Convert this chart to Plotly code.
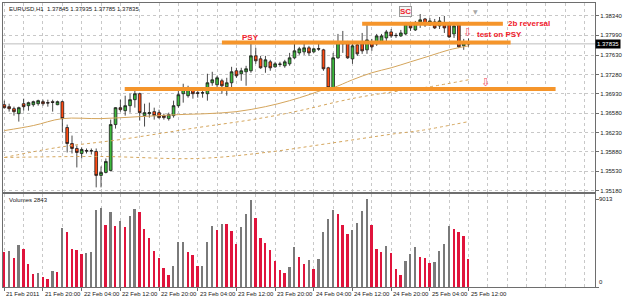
import plotly.graph_objects as go

# ---------------- data (EURUSD H1, 21 Feb 2011 12:00 .. 25 Feb 2011 12:00) ----------------
date_labels = ["21 Feb 2011", "21 Feb 20:00", "22 Feb 04:00", "22 Feb 12:00", "22 Feb 20:00",
               "23 Feb 04:00", "23 Feb 12:00", "23 Feb 20:00", "24 Feb 04:00", "24 Feb 12:00",
               "24 Feb 20:00", "25 Feb 04:00", "25 Feb 12:00"]

opens = [1.36734, 1.36698, 1.36662, 1.36572, 1.36752, 1.36716, 1.36734, 1.36752, 1.36789, 1.36771,
         1.36789, 1.36734, 1.36789, 1.36320, 1.36031, 1.35941, 1.35851, 1.35905, 1.35895, 1.35887,
         1.35454, 1.35508, 1.35544, 1.36374, 1.36680, 1.36626, 1.36716, 1.36825, 1.36933, 1.36536,
         1.36572, 1.36608, 1.36590, 1.36536, 1.36482, 1.36536, 1.36716, 1.36933, 1.36897, 1.37023,
         1.36951, 1.36945, 1.36933, 1.37131, 1.37095, 1.37167, 1.37059, 1.37131, 1.37348, 1.37294,
         1.37330, 1.37348, 1.37618, 1.37564, 1.37420, 1.37510, 1.37420, 1.37470, 1.37438, 1.37474,
         1.37582, 1.37672, 1.37691, 1.37763, 1.37691, 1.37750, 1.37727, 1.37402, 1.37023, 1.37582,
         1.37853, 1.37853, 1.37564, 1.37817, 1.37835, 1.37727, 1.37871, 1.37835, 1.37871, 1.37943,
         1.38051, 1.37990, 1.37979, 1.38015, 1.38196, 1.38087, 1.38232, 1.38286, 1.38178, 1.38232,
         1.38160, 1.38214, 1.38178, 1.38015, 1.38178, 1.37799, 1.37845]
highs = [1.36807, 1.36752, 1.36698, 1.36698, 1.36843, 1.36789, 1.36807, 1.36825, 1.36825, 1.36825,
         1.36825, 1.36807, 1.36807, 1.36374, 1.36175, 1.35995, 1.35959, 1.35941, 1.35941, 1.35941,
         1.35616, 1.35760, 1.36464, 1.36690, 1.36825, 1.36897, 1.36933, 1.37023, 1.36951, 1.36752,
         1.36771, 1.36680, 1.36644, 1.36572, 1.36590, 1.36807, 1.36987, 1.37113, 1.37077, 1.37041,
         1.36987, 1.36987, 1.37294, 1.37330, 1.37257, 1.37203, 1.37221, 1.37420, 1.37402, 1.37402,
         1.37438, 1.37853, 1.37763, 1.37618, 1.37618, 1.37546, 1.37510, 1.37510, 1.37546, 1.37672,
         1.37835, 1.37781, 1.37835, 1.37799, 1.37763, 1.37835, 1.37745, 1.37420, 1.37672, 1.38015,
         1.38069, 1.37889, 1.37835, 1.37853, 1.38033, 1.38196, 1.37925, 1.38015, 1.38015, 1.38087,
         1.38105, 1.38033, 1.38087, 1.38232, 1.38232, 1.38250, 1.38376, 1.38304, 1.38304, 1.38286,
         1.38322, 1.38340, 1.38214, 1.38232, 1.38196, 1.37925, 1.37935]
lows = [1.36662, 1.36608, 1.36536, 1.36428, 1.36626, 1.36626, 1.36698, 1.36716, 1.36716, 1.36698,
        1.36608, 1.36725, 1.36229, 1.35869, 1.35851, 1.35598, 1.35760, 1.35851, 1.35833, 1.35237,
        1.35237, 1.35490, 1.35526, 1.36302, 1.36608, 1.36536, 1.36590, 1.36680, 1.36446, 1.36338,
        1.36500, 1.36464, 1.36482, 1.36464, 1.36446, 1.36500, 1.36680, 1.36771, 1.36861, 1.36843,
        1.36861, 1.36861, 1.36807, 1.37077, 1.36987, 1.36933, 1.36897, 1.37041, 1.37221, 1.37167,
        1.37077, 1.37312, 1.37474, 1.37384, 1.37312, 1.37348, 1.37402, 1.37420, 1.37402, 1.37438,
        1.37564, 1.37636, 1.37636, 1.37618, 1.37672, 1.37709, 1.37348, 1.37030, 1.37005, 1.37564,
        1.37672, 1.37564, 1.37474, 1.37618, 1.37654, 1.37654, 1.37709, 1.37799, 1.37835, 1.37853,
        1.37943, 1.37943, 1.37961, 1.37997, 1.38069, 1.38069, 1.38124, 1.38142, 1.38160, 1.38105,
        1.38105, 1.38033, 1.37943, 1.37943, 1.37763, 1.37727, 1.37785]
closes = [1.36680, 1.36662, 1.36608, 1.36680, 1.36698, 1.36771, 1.36789, 1.36807, 1.36752, 1.36765,
          1.36775, 1.36789, 1.36482, 1.36031, 1.35941, 1.35869, 1.35923, 1.35895, 1.35900, 1.35454,
          1.35508, 1.35706, 1.36374, 1.36680, 1.36644, 1.36716, 1.36825, 1.36933, 1.36590, 1.36590,
          1.36590, 1.36536, 1.36500, 1.36500, 1.36554, 1.36716, 1.36915, 1.37023, 1.37023, 1.36933,
          1.36940, 1.36950, 1.37131, 1.37185, 1.37221, 1.37077, 1.37131, 1.37330, 1.37257, 1.37348,
          1.37384, 1.37618, 1.37528, 1.37402, 1.37546, 1.37402, 1.37474, 1.37465, 1.37510, 1.37582,
          1.37709, 1.37745, 1.37763, 1.37672, 1.37745, 1.37740, 1.37384, 1.37041, 1.37582, 1.37871,
          1.37840, 1.37582, 1.37799, 1.37654, 1.37709, 1.37907, 1.37781, 1.37979, 1.37979, 1.38051,
          1.37979, 1.37985, 1.38033, 1.38196, 1.38124, 1.38214, 1.38270, 1.38178, 1.38250, 1.38124,
          1.38250, 1.38124, 1.37961, 1.38160, 1.37781, 1.37853, 1.37835]
volumes = [3543, 3681, 2924, 4300, 3853, 2339, 1273, 1376, 963, 757,
           1617, 1479, 6020, 5573, 3887, 3784, 3371, 3509, 3578, 7843,
           8084, 6364, 7706, 6261, 6777, 6089, 7293, 8015, 7671, 5951,
           4988, 3681, 2993, 1892, 1204, 2133, 4575, 4590, 3612, 3268,
           2120, 2167, 4575, 6261, 5779, 6433, 6400, 5745, 4403, 6089,
           7499, 8944, 7052, 4954, 4472, 3784, 2683, 1686, 1376, 2064,
           4128, 3096, 2339, 2752, 1823, 2855, 5607, 6983, 7912, 7499,
           6364, 5435, 5848, 6536, 7809, 9013, 6364, 3853, 3612, 4231,
           3440, 1858, 1204, 2649, 3337, 4094, 3096, 2924, 2477, 2511,
           3681, 4369, 6192, 5917, 5573, 5160, 2843]

# moving averages (bar index, value)
ma_fast_idx = [0, 6, 12, 20, 28, 36, 42, 48, 54, 59, 63, 66, 68, 72, 76, 80, 84, 88, 92, 96]
ma_fast_val = [1.36265, 1.36356, 1.36482, 1.36482, 1.36518, 1.36554, 1.36572, 1.36608, 1.36698, 1.36807,
               1.36915, 1.37005, 1.37041, 1.37185, 1.37312, 1.37402, 1.37510, 1.37618, 1.37727, 1.37799]
ma_mid_idx = [0, 11, 24, 40, 50, 56, 62, 69, 74, 82, 88, 96]
ma_mid_val = [1.35778, 1.35959, 1.36103, 1.36320, 1.36446, 1.36536, 1.36644, 1.36789, 1.36879, 1.36987,
              1.37059, 1.37185]
ma_slow_idx = [0, 20, 40, 54, 67, 81, 86, 96]
ma_slow_val = [1.35778, 1.35796, 1.35760, 1.35869, 1.36031, 1.36211, 1.36265, 1.36428]

price_ticks = [1.38340, 1.37990, 1.37630, 1.37280, 1.36930, 1.36580, 1.36230, 1.35880, 1.35530, 1.35180]

# drawn horizontal levels: price, start bar, end bar
level_prices = [1.38200, 1.37862, 1.37018]
level_start = [74, 45, 24.9]
level_end = [103.1, 104.7, 114]

# ---------------- styling ----------------
GRID = "#C8C8C8"
FRAME = "#6E6E6E"
ORANGE = "#F5952B"
MA_COL = "#D4A55C"
TXT_RED = "#F0202C"
FONT = "Liberation Sans"

n = len(closes)
idx = list(range(n))
vol_colors = ["#E0143C"] + ["#7A7A7A" if volumes[i] > volumes[i - 1] else "#E0143C" for i in range(1, n)]
xr = [-0.27, 122.15]

fig = go.Figure()

for mi, mv, dash in [(ma_slow_idx, ma_slow_val, "dot"), (ma_mid_idx, ma_mid_val, "dot"),
                     (ma_fast_idx, ma_fast_val, "solid")]:
    fig.add_trace(go.Scatter(x=mi, y=mv, mode="lines", line=dict(color=MA_COL, width=1, dash=dash, shape="spline"),
                             xaxis="x", yaxis="y", hoverinfo="skip"))

fig.add_trace(go.Candlestick(
    x=idx, open=opens, high=highs, low=lows, close=closes,
    increasing=dict(line=dict(color="#1A1A1A", width=0.8), fillcolor="#3DBA3D"),
    decreasing=dict(line=dict(color="#1A1A1A", width=0.8), fillcolor="#FF4A12"),
    whiskerwidth=0, xaxis="x", yaxis="y", hoverinfo="skip"))

fig.add_trace(go.Bar(x=idx, y=volumes, marker=dict(color=vol_colors, line=dict(width=0)), width=0.38,
                     xaxis="x2", yaxis="y2", hoverinfo="skip"))

shapes = []
# bid line
shapes.append(dict(type="line", xref="x domain", x0=0, x1=1, yref="y", y0=closes[-1], y1=closes[-1],
                   line=dict(color="#BDBDBD", width=1), layer="below"))
for p, s, e in zip(level_prices, level_start, level_end):
    shapes.append(dict(type="line", xref="x", yref="y", x0=s, x1=e, y0=p, y1=p,
                       line=dict(color=ORANGE, width=4), layer="above"))

small = dict(family=FONT, size=6, color="#202020")
ann = []
ann.append(dict(xref="paper", yref="paper", x=0.007, y=0.979, xanchor="left", yanchor="middle", showarrow=False,
                text=f"EURUSD,H1  {opens[-1]:.5f} {highs[-1]:.5f} {lows[-1]:.5f} {closes[-1]:.5f}",
                font=small))
ann.append(dict(xref="paper", yref="paper", x=0.007, y=0.305, xanchor="left", yanchor="middle", showarrow=False,
                text=f"Volumes {volumes[-1]}", font=small))
for k, lab in enumerate(date_labels):
    ann.append(dict(xref="x2", yref="paper", x=8 * k, y=-0.006, xanchor="left", yanchor="top", showarrow=False,
                    text=lab, font=small))
# volume scale labels
ann.append(dict(xref="paper", yref="y2", x=1.0, y=max(volumes), xanchor="left", yanchor="middle", xshift=2,
                showarrow=False, text=str(max(volumes)), font=small))
ann.append(dict(xref="paper", yref="y2", x=1.0, y=0, xanchor="left", yanchor="bottom", xshift=2,
                showarrow=False, text="0", font=small))
# current price box
ann.append(dict(xref="paper", yref="y", x=1.0, y=closes[-1], xanchor="left", yanchor="middle", showarrow=False,
                text=f"{closes[-1]:.5f}", bgcolor="#000000", borderpad=1,
                font=dict(family=FONT, size=6, color="#FFFFFF")))
# chart shift marker
ann.append(dict(xref="x", yref="paper", x=97.4, y=0.99, showarrow=False, text="▼",
                font=dict(family="DejaVu Sans", size=6, color="#A8A8A8")))
# text labels on chart
bold = dict(family=FONT, size=8, color=TXT_RED)
ann.append(dict(xref="x", yref="y", x=50.9, y=1.37943, showarrow=False, text="<b>PSY</b>", font=bold))
ann.append(dict(xref="x", yref="y", x=83, y=1.38430, showarrow=False, text="<b>SC</b>", font=bold,
                bgcolor="#F4F4F4", bordercolor="#9A9A9A", borderwidth=1, borderpad=0))
ann.append(dict(xref="x", yref="y", x=103.7, y=1.38196, xanchor="left", showarrow=False,
                text="<b>2b reversal</b>", font=bold))
ann.append(dict(xref="x", yref="y", x=97.4, y=1.37997, xanchor="left", showarrow=False,
                text="<b>test on PSY</b>", font=bold))
for ax_, ay_ in [(95.7, 1.38033), (99.6, 1.37131)]:
    ann.append(dict(xref="x", yref="y", x=ax_, y=ay_, showarrow=False, text="⇩",
                    font=dict(family="DejaVu Sans", size=11, color="#F2505F")))

fig.update_layout(
    width=625, height=298, margin=dict(l=2, r=25, t=2, b=11),
    paper_bgcolor="white", plot_bgcolor="white", showlegend=False, boxgap=0.2, bargap=0,
    shapes=shapes, annotations=ann,
    xaxis=dict(domain=[0, 1], range=xr, anchor="y", showticklabels=False, ticks="", tick0=0, dtick=4,
               showgrid=True, gridcolor=GRID, griddash="dot", gridwidth=1, zeroline=False,
               showline=True, mirror=True, linecolor=FRAME, rangeslider=dict(visible=False)),
    yaxis=dict(domain=[0.3333, 1], range=[1.35147, 1.38575], side="right", tickvals=price_ticks,
               ticktext=[f"{v:.5f}" for v in price_ticks], ticks="outside", ticklen=3, tickcolor=FRAME,
               tickfont=small, showgrid=True, gridcolor=GRID,
               griddash="dot", zeroline=False, showline=True, mirror=True, linecolor=FRAME),
    xaxis2=dict(domain=[0, 1], range=xr, anchor="y2", tickvals=[8 * k for k in range(len(date_labels))],
                showticklabels=False, ticks="outside", ticklen=3, tickcolor=FRAME, showgrid=True,
                gridcolor=GRID, griddash="dot",
                minor=dict(tick0=0, dtick=4, showgrid=True, gridcolor=GRID, griddash="dot", ticks=""),
                zeroline=False, showline=True, mirror=True, linecolor=FRAME),
    yaxis2=dict(domain=[0, 0.3263], range=[0, 9525], side="right", tickvals=[0, max(volumes)],
                showticklabels=False, ticks="outside", ticklen=3, tickcolor=FRAME,
                showgrid=False, zeroline=False, showline=True, mirror=True, linecolor=FRAME),
)

fig.write_html("out.html")
